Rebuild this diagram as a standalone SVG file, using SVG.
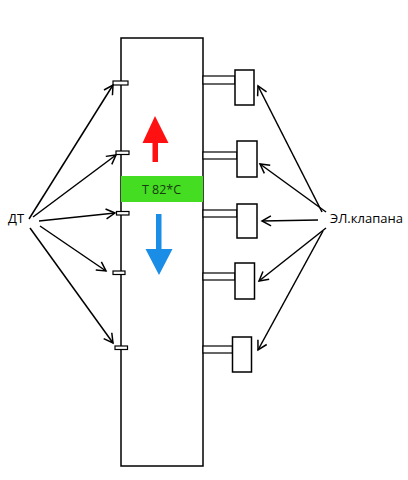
<svg xmlns="http://www.w3.org/2000/svg" width="408" height="480" viewBox="0 0 408 480">
<style>
.ln{stroke:#000;stroke-width:1.5;fill:none}
.box{fill:#fff;stroke:#000;stroke-width:1.5}
.thin{fill:#fff;stroke:#000;stroke-width:1.2}
.lbl{font-family:"Open Sans","Liberation Sans",sans-serif;font-size:13px;fill:#000}
</style>
<defs>
<marker id="ah" markerWidth="12" markerHeight="12" refX="10" refY="6" orient="auto" markerUnits="userSpaceOnUse">
<path d="M1,1 L10,6 L1,11" fill="none" stroke="#000" stroke-width="1.5"/>
</marker>
</defs>
<rect width="408" height="480" fill="#fff"/>
<g id="tank">
<rect class="box" x="121" y="38" width="82" height="428"/>
</g>
<g id="band">
<rect x="121" y="176" width="82" height="26" fill="#44dd22"/>
<text x="161.5" y="194" text-anchor="middle" font-family="Open Sans, Liberation Sans, sans-serif" font-size="12.5" fill="#1a3a10">T 82*C</text>
</g>
<g id="arrow-up">
<polygon points="155,116 168.5,143 158,143 158,162 152.5,162 152.5,143 142.5,143" fill="#ff1111"/>
</g>
<g id="arrow-down">
<polygon points="159,275 172.5,249 161.5,249 161.5,214 156,214 156,249 145.5,249" fill="#1a8de6"/>
</g>
<g id="sensors">
<rect class="thin" x="113" y="81" width="15" height="4"/>
<rect class="thin" x="116" y="151" width="13" height="3.5"/>
<rect class="thin" x="116.5" y="211.5" width="12.5" height="3.5"/>
<rect class="thin" x="113" y="271" width="12" height="3.5"/>
<rect class="thin" x="115" y="346" width="12.5" height="3.5"/>
</g>
<g id="valve1">
<rect class="thin" x="203" y="76" width="32" height="8"/>
<rect class="box" x="235" y="70" width="19" height="35"/>
</g>
<g id="valve2">
<rect class="thin" x="203" y="152" width="34" height="7"/>
<rect class="box" x="237" y="141" width="20" height="36"/>
</g>
<g id="valve3">
<rect class="thin" x="203" y="210" width="34" height="7"/>
<rect class="box" x="237" y="204" width="20" height="34"/>
</g>
<g id="valve4">
<rect class="thin" x="203" y="273" width="32" height="7"/>
<rect class="box" x="235" y="263" width="19.5" height="36"/>
</g>
<g id="valve5">
<rect class="thin" x="203" y="346" width="29.5" height="7"/>
<rect class="box" x="232.5" y="337" width="19" height="35"/>
</g>
<g id="label-dt">
<text class="lbl" x="8" y="223">ДТ</text>
</g>
<g id="label-valves">
<text class="lbl" x="330" y="223">ЭЛ.клапана</text>
</g>
<g id="connectors">
<line class="ln" x1="29" y1="219" x2="113" y2="85" marker-end="url(#ah)"/>
<line class="ln" x1="33" y1="217" x2="116" y2="155" marker-end="url(#ah)"/>
<line class="ln" x1="39" y1="221" x2="115" y2="213" marker-end="url(#ah)"/>
<line class="ln" x1="40" y1="226" x2="106" y2="271" marker-end="url(#ah)"/>
<line class="ln" x1="30" y1="228" x2="113" y2="343" marker-end="url(#ah)"/>
<line class="ln" x1="322" y1="212" x2="258" y2="86" marker-end="url(#ah)"/>
<line class="ln" x1="326" y1="212" x2="260" y2="164" marker-end="url(#ah)"/>
<line class="ln" x1="318" y1="220" x2="262" y2="221" marker-end="url(#ah)"/>
<line class="ln" x1="326" y1="228" x2="259" y2="281" marker-end="url(#ah)"/>
<line class="ln" x1="323" y1="231" x2="258" y2="350" marker-end="url(#ah)"/>
</g>
</svg>
